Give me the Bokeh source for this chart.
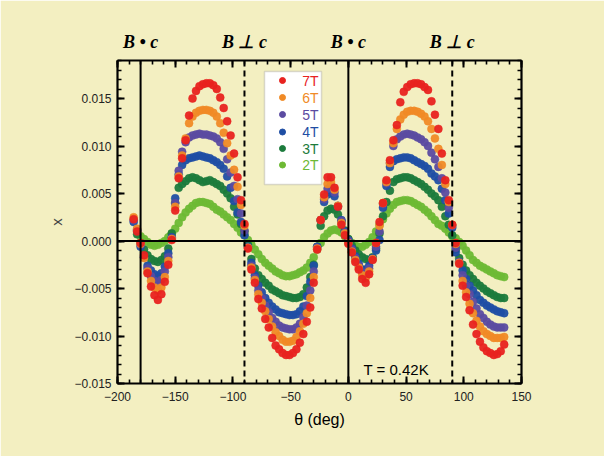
import numpy as np
from bokeh.plotting import figure
from bokeh.models import (ColumnDataSource, LinearAxis, FixedTicker, Span, Label,
                          BoxAnnotation, CustomJSTickFormatter, Range1d)
from bokeh.embed import file_html
from bokeh.resources import INLINE
from bokeh.core.properties import value

nan = float("nan")

# angle grid (deg)
theta = list(range(-186, 136, 3))

chi_7T = [0.0023, 0.0010, -0.0002, -0.0015, -0.0034, -0.0048, -0.0057, -0.0062, -0.0056, -0.0043,
          -0.0025, 0.0001, 0.0032, 0.0066, 0.0087, 0.0106, 0.0132, 0.0150, 0.0158, 0.0163,
          0.0165, 0.0166, 0.0166, 0.0164, 0.0160, 0.0151, 0.0140, 0.0126, 0.0111, 0.0092,
          0.0067, 0.0043, 0.0018, -0.0008, -0.0030, -0.0044, -0.0061, -0.0071, -0.0082, -0.0091,
          -0.0102, -0.0110, -0.0114, -0.0118, -0.0120, -0.0120, -0.0118, -0.0114, -0.0107, -0.0098,
          -0.0085, -0.0070, -0.0044, -0.0009, 0.0022, 0.0049, 0.0067, 0.0067, 0.0056, 0.0036,
          0.0017, 0.0006, -0.0003, -0.0012, -0.0022, -0.0030, -0.0040, -0.0044, -0.0035, -0.0020,
          -0.0002, 0.0020, 0.0040, 0.0064, 0.0085, 0.0106, 0.0122, 0.0146, 0.0157, 0.0162,
          0.0165, 0.0166, 0.0166, 0.0165, 0.0162, 0.0159, 0.0147, 0.0133, 0.0118, 0.0092,
          0.0064, 0.0043, 0.0017, -0.0002, -0.0024, -0.0047, -0.0059, -0.0073, -0.0088, -0.0098,
          -0.0106, -0.0112, -0.0116, -0.0118, -0.0120, -0.0119, -0.0116, -0.0109]

chi_6T = [0.0025, 0.0013, -0.0003, -0.0018, -0.0032, -0.0042, -0.0049, -0.0052, -0.0049, -0.0038,
          -0.0021, 0.0002, 0.0036, 0.0068, 0.0090, 0.0108, 0.0124, 0.0131, 0.0135, 0.0137,
          0.0138, 0.0138, 0.0137, 0.0135, 0.0131, 0.0124, 0.0114, 0.0103, 0.0090, 0.0075,
          0.0057, 0.0038, 0.0016, -0.0007, -0.0028, -0.0041, -0.0056, -0.0065, -0.0074, -0.0082,
          -0.0090, -0.0096, -0.0100, -0.0104, -0.0106, -0.0106, -0.0105, -0.0101, -0.0095, -0.0087,
          -0.0076, -0.0060, -0.0038, -0.0008, 0.0022, 0.0046, 0.0060, 0.0062, 0.0054, 0.0037,
          0.0019, 0.0008, -0.0002, -0.0011, -0.0020, -0.0028, -0.0036, -0.0039, -0.0032, -0.0019,
          -0.0002, 0.0016, 0.0040, 0.0062, 0.0082, 0.0103, 0.0118, 0.0128, 0.0133, 0.0136,
          0.0137, 0.0137, 0.0136, 0.0134, 0.0131, 0.0126, 0.0118, 0.0108, 0.0097, 0.0080,
          0.0060, 0.0041, 0.0017, -0.0003, -0.0023, -0.0042, -0.0054, -0.0066, -0.0076, -0.0084,
          -0.0090, -0.0095, -0.0098, -0.0100, -0.0102, -0.0102, -0.0102, -0.0101]

chi_5T = [0.0022, 0.0012, -0.0004, -0.0017, -0.0029, -0.0037, -0.0042, -0.0044, -0.0041, -0.0032,
          -0.0017, 0.0003, 0.0040, 0.0074, 0.0094, 0.0104, 0.0109, 0.0111, 0.0112, 0.0113,
          0.0112, 0.0112, 0.0111, 0.0110, 0.0108, 0.0104, 0.0097, 0.0086, 0.0072, 0.0058,
          0.0044, 0.0029, 0.0011, -0.0007, -0.0026, -0.0039, -0.0052, -0.0060, -0.0068, -0.0075,
          -0.0081, -0.0085, -0.0089, -0.0091, -0.0092, -0.0093, -0.0093, -0.0091, -0.0087, -0.0080,
          -0.0068, -0.0052, -0.0032, -0.0007, 0.0022, 0.0044, 0.0055, 0.0057, 0.0051, 0.0037,
          0.0021, 0.0009, 0.0000, -0.0009, -0.0018, -0.0026, -0.0033, -0.0035, -0.0029, -0.0019,
          -0.0006, 0.0010, 0.0039, 0.0061, 0.0082, 0.0100, 0.0107, 0.0110, 0.0112, 0.0113,
          0.0112, 0.0111, 0.0109, 0.0107, 0.0104, 0.0100, 0.0093, 0.0086, 0.0078, 0.0066,
          0.0051, 0.0035, 0.0016, -0.0007, -0.0022, -0.0036, -0.0047, -0.0056, -0.0064, -0.0071,
          -0.0077, -0.0081, -0.0085, -0.0088, -0.0090, -0.0091, -0.0091, -0.0091]

chi_4T = [0.0020, 0.0011, -0.0006, -0.0017, -0.0026, -0.0031, -0.0035, -0.0037, -0.0034, -0.0027,
          -0.0013, 0.0004, 0.0045, 0.0070, 0.0080, 0.0085, 0.0087, 0.0088, 0.0089, 0.0090,
          0.0089, 0.0088, 0.0087, 0.0085, 0.0083, 0.0080, 0.0076, 0.0068, 0.0056, 0.0042,
          0.0030, 0.0020, 0.0006, -0.0006, -0.0023, -0.0036, -0.0047, -0.0054, -0.0060, -0.0065,
          -0.0069, -0.0072, -0.0075, -0.0076, -0.0077, -0.0078, -0.0078, -0.0077, -0.0074, -0.0069,
          -0.0058, -0.0043, -0.0026, -0.0006, 0.0022, 0.0041, 0.0049, 0.0051, 0.0047, 0.0036,
          0.0022, 0.0010, 0.0001, -0.0008, -0.0016, -0.0024, -0.0030, -0.0030, -0.0026, -0.0018,
          -0.0010, 0.0001, 0.0035, 0.0058, 0.0078, 0.0084, 0.0086, 0.0087, 0.0088, 0.0088,
          0.0087, 0.0085, 0.0083, 0.0081, 0.0079, 0.0076, 0.0071, 0.0068, 0.0064, 0.0055,
          0.0043, 0.0029, 0.0014, -0.0012, -0.0022, -0.0031, -0.0040, -0.0047, -0.0052, -0.0057,
          -0.0062, -0.0065, -0.0068, -0.0070, -0.0072, -0.0074, -0.0075, -0.0076]

chi_3T = [nan, 0.0007, -0.0002, -0.0009, -0.0015, -0.0019, -0.0021, -0.0022, -0.0020, -0.0016,
          -0.0008, 0.0008, 0.0040, 0.0056, 0.0060, 0.0063, 0.0066, 0.0067, 0.0066, 0.0064,
          0.0062, 0.0063, 0.0064, 0.0062, 0.0060, 0.0058, 0.0054, 0.0050, 0.0045, 0.0036,
          0.0028, 0.0018, 0.0010, -0.0004, -0.0019, -0.0029, -0.0036, -0.0040, -0.0044, -0.0047,
          -0.0051, -0.0053, -0.0055, -0.0057, -0.0058, -0.0059, -0.0060, -0.0060, -0.0059, -0.0056,
          -0.0049, -0.0038, -0.0025, -0.0006, 0.0016, 0.0026, 0.0032, 0.0034, 0.0033, 0.0028,
          0.0020, 0.0011, 0.0002, -0.0005, -0.0010, -0.0014, -0.0017, -0.0019, -0.0020, -0.0017,
          -0.0008, 0.0008, 0.0026, 0.0041, 0.0053, 0.0062, 0.0065, 0.0066, 0.0067, 0.0067,
          0.0066, 0.0064, 0.0062, 0.0060, 0.0057, 0.0054, 0.0050, 0.0047, 0.0043, 0.0036,
          0.0026, 0.0017, 0.0006, -0.0009, -0.0018, -0.0025, -0.0031, -0.0036, -0.0040, -0.0044,
          -0.0047, -0.0050, -0.0053, -0.0055, -0.0057, -0.0059, -0.0060, -0.0060]

chi_2T = [nan, nan, 0.0005, 0.0002, -0.0001, -0.0004, -0.0005, -0.0004, -0.0002, 0.0000,
          0.0004, 0.0008, 0.0013, 0.0019, 0.0025, 0.0030, 0.0034, 0.0037, 0.0040, 0.0041,
          0.0041, 0.0040, 0.0039, 0.0036, 0.0033, 0.0031, 0.0028, 0.0025, 0.0022, 0.0018,
          0.0014, 0.0009, 0.0006, 0.0001, -0.0004, -0.0009, -0.0014, -0.0019, -0.0023, -0.0026,
          -0.0029, -0.0032, -0.0034, -0.0036, -0.0037, -0.0037, -0.0036, -0.0035, -0.0033, -0.0031,
          -0.0028, -0.0023, -0.0017, -0.0009, -0.0002, 0.0004, 0.0008, 0.0011, 0.0012, 0.0011,
          0.0009, 0.0005, 0.0002, -0.0002, -0.0005, -0.0006, -0.0006, -0.0004, -0.0001, 0.0004,
          0.0010, 0.0017, 0.0023, 0.0029, 0.0034, 0.0038, 0.0041, 0.0042, 0.0043, 0.0043,
          0.0042, 0.0040, 0.0038, 0.0036, 0.0033, 0.0030, 0.0026, 0.0022, 0.0018, 0.0016,
          0.0013, 0.0009, 0.0005, 0.0003, -0.0001, -0.0005, -0.0010, -0.0015, -0.0020, -0.0023,
          -0.0026, -0.0028, -0.0030, -0.0032, -0.0034, -0.0036, -0.0037, -0.0038]

fields = ["7T", "6T", "5T", "4T", "3T", "2T"]
colors = ["#e8221f", "#f08a26", "#5b4ba1", "#1f4ea4", "#1c7b3c", "#6db934"]
series = [chi_7T, chi_6T, chi_5T, chi_4T, chi_3T, chi_2T]

x_ticks = [-200, -150, -100, -50, 0, 50, 100, 150]
y_ticks = [-0.015, -0.010, -0.005, 0.0, 0.005, 0.010, 0.015]
direction_labels = ["B • c", "B ⊥ c", "B • c", "B ⊥ c"]
direction_angles = [-180, -90, 0, 90]

BG = "#f3efc1"
X0, X1, Y0, Y1 = -200, 150, -0.015, 0.019
FL, FR, FT, FB = 117, 521, 60, 383  # frame pixel edges


def px2x(px):
    return X0 + (px - FL) * (X1 - X0) / (FR - FL)


def px2y(py):
    return Y1 - (py - FT) * (Y1 - Y0) / (FB - FT)


p = figure(width=604, height=456, x_range=Range1d(X0, X1), y_range=Range1d(Y0, Y1),
           output_backend="svg", toolbar_location=None,
           min_border_left=FL, min_border_right=604 - FR, min_border_top=FT,
           min_border_bottom=456 - FB,
           background_fill_color=BG, border_fill_color=BG,
           x_axis_location=None, y_axis_location=None)
p.grid.visible = False
p.outline_line_color = None

xt = FixedTicker(ticks=x_ticks, minor_ticks=list(range(-200, 151, 10)))
yt = FixedTicker(ticks=y_ticks, minor_ticks=[round(-0.015 + 0.001 * i, 3) for i in range(35)])
fx = CustomJSTickFormatter(code="return tick.toFixed(0).replace('-', '\\u2212');")
fy = CustomJSTickFormatter(code="return (Math.abs(tick) < 1e-9 ? '0.000' : tick.toFixed(3).replace('-', '\\u2212'));")
blank = CustomJSTickFormatter(code="return '';")


def style(ax, labels=True):
    ax.axis_line_width = 2.2
    ax.axis_line_color = "black"
    ax.major_tick_line_width = 2
    ax.minor_tick_line_width = 1.6
    ax.major_tick_in = 7
    ax.major_tick_out = 0
    ax.minor_tick_in = 4
    ax.minor_tick_out = 0
    ax.major_label_text_font = "Liberation Sans"
    ax.major_label_text_font_size = "12px"
    ax.major_label_text_color = "#222222"
    if not labels:
        ax.major_label_text_font_size = "0px"
        ax.major_label_standoff = 0
    return ax


bottom = style(LinearAxis(ticker=xt, formatter=fx, axis_label="θ (deg)"))
bottom.major_label_standoff = 8
bottom.axis_label_text_font = "Liberation Sans"
bottom.axis_label_text_font_style = "normal"
bottom.axis_label_text_font_size = "16px"
bottom.axis_label_text_color = "black"
bottom.axis_label_standoff = 7

left = style(LinearAxis(ticker=yt, formatter=fy, axis_label="x"))
left.major_label_standoff = 6
left.axis_label_text_font = "Liberation Sans"
left.axis_label_text_font_style = "normal"
left.axis_label_text_font_size = "15px"
left.axis_label_standoff = 6

top = style(LinearAxis(ticker=xt, formatter=blank), labels=False)
right = style(LinearAxis(ticker=yt, formatter=blank), labels=False)

# direction labels above the frame, as tick labels of an extra top axis
dir_axis = LinearAxis(
    ticker=FixedTicker(ticks=direction_angles, minor_ticks=[]),
    formatter=CustomJSTickFormatter(
        args=dict(angles=direction_angles, labels=direction_labels),
        code="const i = angles.indexOf(Math.round(tick)); return i >= 0 ? labels[i] : '';"))
dir_axis.axis_line_color = None
dir_axis.major_tick_line_color = None
dir_axis.minor_tick_line_color = None
dir_axis.major_tick_in = 0
dir_axis.major_tick_out = 0
dir_axis.major_label_standoff = 9
dir_axis.major_label_text_font = "Liberation Serif"
dir_axis.major_label_text_font_style = "bold italic"
dir_axis.major_label_text_font_size = "18px"
dir_axis.major_label_text_color = "black"

p.add_layout(bottom, "below")
p.add_layout(left, "left")
p.add_layout(top, "above")
p.add_layout(dir_axis, "above")
p.add_layout(right, "right")

# legend box (under the data)
p.add_layout(BoxAnnotation(left=px2x(264), right=px2x(321), top=px2y(71), bottom=px2y(184),
                           fill_color="white", fill_alpha=1.0, line_color="#8c8c8c",
                           line_width=1.5, level="underlay"))

src = ColumnDataSource(dict(theta=np.array(theta, dtype=float),
                            **{f: np.array(s, dtype=float) for f, s in zip(fields, series)}))
for f, c in reversed(list(zip(fields, colors))):
    p.scatter(x="theta", y=f, source=src, size=8, fill_color=c, line_color=c,
              line_width=0.5, fill_alpha=0.95, line_alpha=0.95)

# legend entries
leg = ColumnDataSource(dict(
    mx=[px2x(282)] * 6,
    tx=[px2x(318)] * 6,
    y=[px2y(v) for v in (80, 97, 114, 131.5, 148, 164.5)],
    label=fields, color=colors))
p.scatter(x="mx", y="y", source=leg, size=6, fill_color="color", line_color="color")
p.text(x="tx", y="y", text="label", source=leg, text_color="color", text_align="right",
       text_baseline="middle", text_font=value("Liberation Sans"), text_font_size="14px")

# reference lines
p.add_layout(Span(location=0, dimension="width", line_color="black", line_width=2))
for a in direction_angles:
    dash = "solid" if a % 180 == 0 else "6 4"
    p.add_layout(Span(location=a, dimension="height", line_color="black", line_width=2,
                      line_dash=dash))

p.add_layout(Label(x=px2x(363), y=px2y(369), text="T = 0.42K", text_font="Liberation Sans",
                   text_font_size="15px", text_color="black", text_baseline="alphabetic"))

with open("out.html", "w", encoding="utf-8") as fh:
    fh.write(file_html(p, INLINE))
